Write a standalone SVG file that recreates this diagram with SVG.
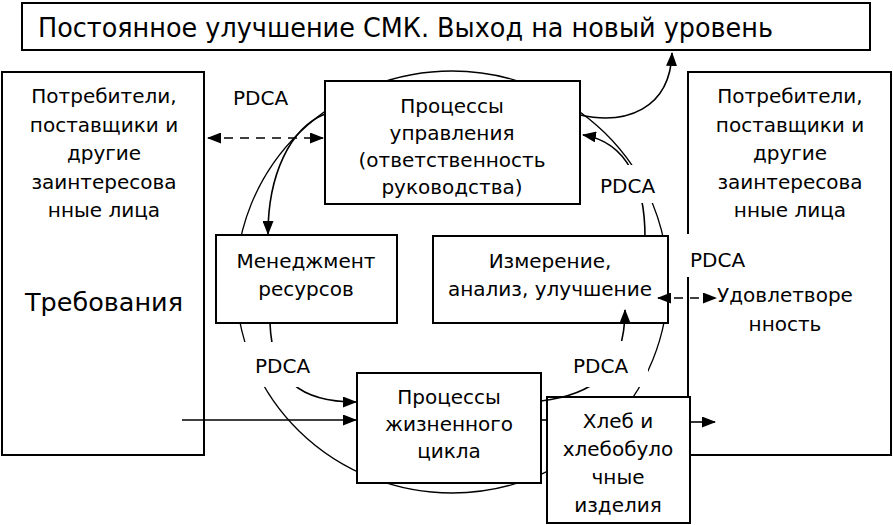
<svg xmlns="http://www.w3.org/2000/svg" width="893" height="525" viewBox="0 0 893 525">
<style>
  .box { fill: #fff; stroke: #000; stroke-width: 2; }
  .t { font-family: "DejaVu Sans", "Liberation Sans", sans-serif; font-size: 20px; fill: #000; text-anchor: middle; }
  .pdca { font-family: "DejaVu Sans", "Liberation Sans", sans-serif; font-size: 20px; fill: #000; }
  .lbg { fill: #fff; stroke: none; }
  .c { fill: none; stroke: #000; stroke-width: 1.6; }
  .d { fill: none; stroke: #000; stroke-width: 1.6; stroke-dasharray: 9 7; }
</style>
<defs>
  <marker id="ah" markerUnits="userSpaceOnUse" markerWidth="14" markerHeight="11" viewBox="0 0 14 11" refX="13" refY="5.5" orient="auto-start-reverse">
    <path d="M0,0 L14,5.5 L0,11 z" fill="#000"/>
  </marker>
</defs>
<rect width="893" height="525" fill="#fff"/>

<g id="cycle">
  <ellipse cx="452" cy="282" rx="216" ry="211" fill="none" stroke="#000" stroke-width="1.3"/>
</g>

<g id="title">
  <rect class="box" x="22" y="3" width="848" height="47"/>
  <text x="38" y="37" style="font-family:'DejaVu Sans','Liberation Sans',sans-serif;font-size:26px" textLength="735" lengthAdjust="spacingAndGlyphs">Постоянное улучшение СМК. Выход на новый уровень</text>
</g>

<g id="left-stakeholders">
  <rect class="box" x="2" y="72" width="202" height="383"/>
  <text class="t" x="104" y="103">Потребители,</text>
  <text class="t" x="104" y="131.5">поставщики и</text>
  <text class="t" x="104" y="160">другие</text>
  <text class="t" x="104" y="188.5">заинтересова</text>
  <text class="t" x="104" y="217">нные лица</text>
  <text class="t" x="104" y="311" style="font-size:25.5px">Требования</text>
</g>

<g id="right-stakeholders">
  <rect class="box" x="688" y="72" width="203" height="383"/>
  <text class="t" x="790" y="103">Потребители,</text>
  <text class="t" x="790" y="131.5">поставщики и</text>
  <text class="t" x="790" y="160">другие</text>
  <text class="t" x="790" y="188.5">заинтересова</text>
  <text class="t" x="790" y="217">нные лица</text>
  <text class="t" x="785" y="302">Удовлетворе</text>
  <text class="t" x="785" y="331">нность</text>
</g>

<g id="management">
  <rect class="box" x="325" y="81" width="255" height="123"/>
  <text class="t" x="452" y="113">Процессы</text>
  <text class="t" x="452" y="140">управления</text>
  <text class="t" x="452" y="167">(ответственность</text>
  <text class="t" x="452" y="194">руководства)</text>
</g>

<g id="resources">
  <rect class="box" x="216" y="235" width="181" height="88"/>
  <text class="t" x="306" y="268">Менеджмент</text>
  <text class="t" x="306" y="296">ресурсов</text>
</g>

<g id="measurement">
  <rect class="box" x="433" y="236" width="235" height="87"/>
  <text class="t" x="550" y="268">Измерение,</text>
  <text class="t" x="550" y="296">анализ, улучшение</text>
</g>

<g id="lifecycle">
  <rect class="box" x="357" y="373" width="184" height="110"/>
  <text class="t" x="449" y="404">Процессы</text>
  <text class="t" x="449" y="431">жизненного</text>
  <text class="t" x="449" y="458">цикла</text>
</g>

<g id="product">
  <rect class="box" x="547" y="397" width="143" height="126"/>
  <text class="t" x="618" y="428">Хлеб и</text>
  <text class="t" x="618" y="456">хлебобуло</text>
  <text class="t" x="618" y="484">чные</text>
  <text class="t" x="618" y="512">изделия</text>
</g>

<g id="connectors">
  <path class="c" d="M580,115 C625,125 670,110 672,53" marker-end="url(#ah)"/>
  <path class="c" d="M325,114 C290,128 268,175 268,234" marker-end="url(#ah)"/>
  <path class="c" d="M645,237 C645,185 628,142 583,135" marker-end="url(#ah)"/>
  <path class="c" d="M270,323 C272,380 300,402 356,402" marker-end="url(#ah)"/>
  <path class="c" d="M541,401 C590,395 625,375 625,310" marker-end="url(#ah)"/>
  <path class="c" d="M182,420 H356" marker-end="url(#ah)"/>
  <path class="c" d="M541,420 H547"/>
  <path class="c" d="M690,422 H715" marker-end="url(#ah)"/>
  <path class="d" d="M208,138 H323" marker-start="url(#ah)" marker-end="url(#ah)"/>
  <path class="d" d="M658,298 H716" marker-start="url(#ah)" marker-end="url(#ah)"/>
</g>

<g id="pdca-labels">
  <text class="pdca" x="233" y="105">PDCA</text>
  <rect class="lbg" x="590" y="165" width="70" height="38"/>
  <text class="pdca" x="600" y="193">PDCA</text>
  <rect class="lbg" x="680" y="234" width="64" height="43"/>
  <text class="pdca" x="690" y="267">PDCA</text>
  <rect class="lbg" x="238" y="342" width="82" height="45"/>
  <text class="pdca" x="255" y="373">PDCA</text>
  <rect class="lbg" x="560" y="341" width="88" height="46"/>
  <text class="pdca" x="573" y="373">PDCA</text>
</g>
</svg>
